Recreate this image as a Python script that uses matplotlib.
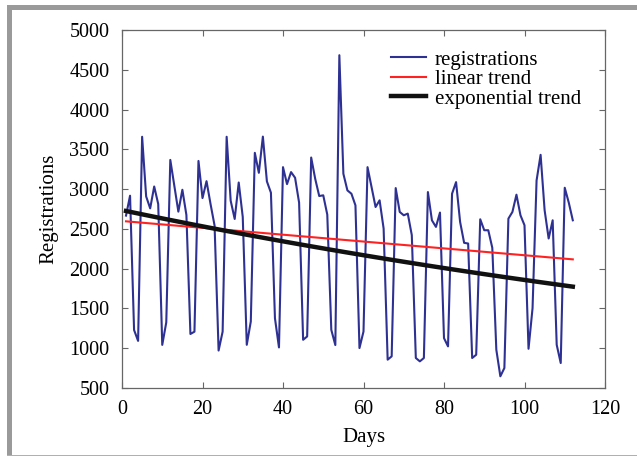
import numpy as np
import matplotlib
matplotlib.use("Agg")
import matplotlib.pyplot as plt
from matplotlib.patches import Rectangle

plt.rcParams['font.family'] = ['Liberation Serif', 'DejaVu Serif']

# registrations per day (days 1..112)
registrations = [
    2667, 2917, 1229, 1092, 3658, 2908, 2758, 3033, 2812, 1042,
    1325, 3367, 3042, 2717, 2992, 2675, 1179, 1208, 3354, 2887,
    3100, 2812, 2542, 971, 1208, 3658, 2854, 2625, 3083, 2650,
    1043, 1336, 3456, 3205, 3660, 3097, 2955, 1377, 1010, 3276,
    3063, 3214, 3143, 2830, 1106, 1148, 3397, 3130, 2913, 2922,
    2680, 1231, 1040, 4683, 3193, 2984, 2942, 2796, 1002, 1210,
    3276, 3026, 2775, 2859, 2504, 856, 898, 3013, 2713, 2671,
    2692, 2421, 877, 835, 877, 2963, 2608, 2525, 2705, 1127,
    1023, 2942, 3088, 2588, 2325, 2316, 877, 918, 2621, 2483,
    2483, 2262, 981, 647, 751, 2629, 2713, 2930, 2671, 2546,
    993, 1503, 3109, 3431, 2734, 2379, 2608, 1043, 814, 3017,
    2830, 2608,
]
days = np.arange(1, len(registrations) + 1)

# trend values at first and last day
linear_ends = [2595, 2117]
exp_ends = [2725, 1774]

fig = plt.figure(figsize=(6.37, 4.57), dpi=100)

# grey frame round the picture
fig.patches.append(Rectangle((7/637, 1 - 10/457), 1, 5/457, transform=fig.transFigure,
                             color='#9a9a9a', lw=0, zorder=0))
fig.patches.append(Rectangle((7/637, 1/457), 5/637, 1 - 6/457, transform=fig.transFigure,
                             color='#9a9a9a', lw=0, zorder=0))
fig.patches.append(Rectangle((7/637, 0.8/457), 1, 1.2/457, transform=fig.transFigure,
                             color='#b0b0b0', lw=0, zorder=0))

ax = fig.add_axes([122/637, 1 - 388/457, 483/637, 358/457])

# linear trend
lin = np.polyfit([days[0], days[-1]], linear_ends, 1)
# exponential trend a*exp(b*x)
b = np.log(exp_ends[1] / exp_ends[0]) / (days[-1] - days[0])
a = exp_ends[0] / np.exp(b * days[0])

ax.plot(days, registrations, color='#2e3192', lw=1.5, label='registrations', zorder=2)
ax.plot(days, np.polyval(lin, days), color='#ff2222', lw=1.5, label='linear trend', zorder=3)
ax.plot(days, a * np.exp(b * days), color='#111111', lw=3.2, label='exponential trend', zorder=4)

ax.set_xlim(0, 120)
ax.set_ylim(500, 5000)
ax.set_xticks(range(0, 121, 20))
ax.set_yticks(range(500, 5001, 500))
ax.tick_params(direction='in', top=True, right=True, length=4, width=0.8,
               color='#666666', labelsize=14.5)
ax.tick_params(axis='y', pad=9)
ax.tick_params(axis='x', pad=9)
for s in ax.spines.values():
    s.set_color('#666666')
    s.set_linewidth(0.9)

ax.set_xlabel('Days', fontsize=15, labelpad=6)
ax.set_ylabel('Registrations', fontsize=15, labelpad=8)

ax.legend(loc='upper right', frameon=False, fontsize=15, handlelength=1.7,
          handletextpad=0.4, labelspacing=0.0, borderaxespad=0.3,
          bbox_to_anchor=(0.98, 0.985))

fig.savefig('out.png', dpi=100)
